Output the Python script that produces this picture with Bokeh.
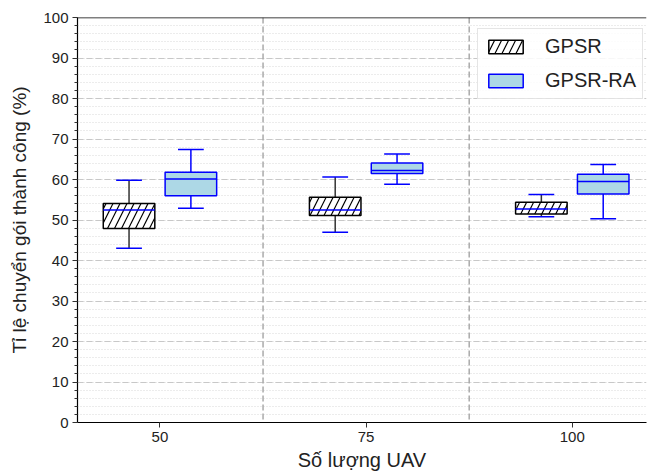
import numpy as np
from bokeh.plotting import figure
from bokeh.models import (ColumnDataSource, Range1d, FixedTicker, SingleIntervalTicker,
                          Span, Legend, LegendItem)
from bokeh.transform import dodge
from bokeh.embed import file_html
from bokeh.resources import INLINE

# ---- data ----
categories = ["50", "75", "100"]
gpsr_low = [43.0, 47.0, 50.8]
gpsr_q1 = [47.9, 51.1, 51.5]
gpsr_med = [52.5, 52.5, 52.7]
gpsr_q3 = [54.1, 55.6, 54.4]
gpsr_high = [59.8, 60.6, 56.3]

ra_low = [52.9, 58.8, 50.3]
ra_q1 = [56.0, 61.5, 56.4]
ra_med = [60.1, 62.2, 59.5]
ra_q3 = [61.8, 64.1, 61.3]
ra_high = [67.4, 66.3, 63.7]

FONT = "Liberation Sans"
xs = list(range(len(categories)))

p = figure(width=647, height=473, output_backend="svg", toolbar_location=None,
           x_range=Range1d(-0.4, 2.36), y_range=Range1d(0, 100),
           min_border_left=77, min_border_right=1, min_border_top=17, min_border_bottom=50)
p.outline_line_color = None
p.background_fill_color = "white"

# grids
p.xgrid.grid_line_color = None
yt = SingleIntervalTicker(interval=10, num_minor_ticks=5)
p.yaxis.ticker = yt
p.ygrid.ticker = yt
p.ygrid.grid_line_color = "#c8c8c8"
p.ygrid.grid_line_dash = "6 3"
p.ygrid.grid_line_width = 1
p.ygrid.minor_grid_line_color = "#d8d8d8"
p.ygrid.minor_grid_line_dash = "1 2"
p.ygrid.minor_grid_line_width = 1

for loc in [0.5, 1.5]:
    p.add_layout(Span(location=loc, dimension="height", line_color="#aaaaaa",
                      line_dash="6 3", line_width=1.5, level="underlay"))
p.add_layout(Span(location=100, dimension="width", line_color="black", line_width=1.5))

def make_src(low, q1, med, q3, high):
    return ColumnDataSource(dict(x=xs, low=low, q1=q1, med=med, q3=q3, high=high))

src_g = make_src(gpsr_low, gpsr_q1, gpsr_med, gpsr_q3, gpsr_high)
src_r = make_src(ra_low, ra_q1, ra_med, ra_q3, ra_high)

off = 0.15
bw = 0.25
cw = 0.125

# GPSR
p.segment(x0=dodge("x", -off), y0="q3", x1=dodge("x", -off), y1="high", source=src_g,
          line_color="#333333", line_width=1.5)
p.segment(x0=dodge("x", -off), y0="low", x1=dodge("x", -off), y1="q1", source=src_g,
          line_color="#333333", line_width=1.5)
p.segment(x0=dodge("x", -off - cw / 2), y0="high", x1=dodge("x", -off + cw / 2), y1="high",
          source=src_g, line_color="blue", line_width=1.5)
p.segment(x0=dodge("x", -off - cw / 2), y0="low", x1=dodge("x", -off + cw / 2), y1="low",
          source=src_g, line_color="blue", line_width=1.5)
box_g = p.vbar(x=dodge("x", -off), width=bw, top="q3", bottom="q1", source=src_g,
               fill_color="white", line_color="black", line_width=1.5,
               hatch_pattern="/", hatch_color="black", hatch_weight=1.2, hatch_scale=14)
p.segment(x0=dodge("x", -off - bw / 2), y0="med", x1=dodge("x", -off + bw / 2), y1="med",
          source=src_g, line_color="blue", line_width=1.5)

# GPSR-RA
p.segment(x0=dodge("x", off), y0="q3", x1=dodge("x", off), y1="high", source=src_r,
          line_color="blue", line_width=1.5)
p.segment(x0=dodge("x", off), y0="low", x1=dodge("x", off), y1="q1", source=src_r,
          line_color="blue", line_width=1.5)
p.segment(x0=dodge("x", off - cw / 2), y0="high", x1=dodge("x", off + cw / 2), y1="high",
          source=src_r, line_color="blue", line_width=1.5)
p.segment(x0=dodge("x", off - cw / 2), y0="low", x1=dodge("x", off + cw / 2), y1="low",
          source=src_r, line_color="blue", line_width=1.5)
box_r = p.vbar(x=dodge("x", off), width=bw, top="q3", bottom="q1", source=src_r,
               fill_color="#add8e6", line_color="blue", line_width=1.5)
p.segment(x0=dodge("x", off - bw / 2), y0="med", x1=dodge("x", off + bw / 2), y1="med",
          source=src_r, line_color="blue", line_width=1.5)

# axes
p.xaxis.ticker = FixedTicker(ticks=xs)
p.xaxis.major_label_overrides = {i: c for i, c in enumerate(categories)}
for ax in (p.xaxis[0], p.yaxis[0]):
    ax.axis_line_color = "black"
    ax.axis_line_width = 1.2
    ax.major_tick_line_color = "#333333"
    ax.minor_tick_line_color = "#333333"
    ax.major_tick_in = 0
    ax.major_tick_out = 5
    ax.minor_tick_in = 0
    ax.minor_tick_out = 3
    ax.major_label_text_font = FONT
    ax.major_label_text_font_size = "15px"
    ax.major_label_text_color = "#222222"
    ax.axis_label_text_font = FONT
    ax.axis_label_text_font_style = "normal"
    ax.axis_label_text_color = "#222222"
    ax.major_label_standoff = 4
    ax.axis_label_standoff = 4
p.yaxis.axis_label_standoff = 10
p.xaxis.axis_label = "Số lượng UAV"
p.xaxis.axis_label_text_font_size = "20px"
p.yaxis.axis_label = "Tỉ lệ chuyển gói thành công (%)"
p.yaxis.axis_label_text_font_size = "19px"

legend = Legend(items=[LegendItem(label="GPSR", renderers=[box_g]),
                       LegendItem(label="GPSR-RA", renderers=[box_r])],
                location=(400, 323))
legend.label_text_font = FONT
legend.label_text_font_size = "20px"
legend.label_text_color = "#222222"
legend.glyph_width = 43
legend.glyph_height = 17
legend.label_height = 22
legend.label_standoff = 18
legend.spacing = 11
legend.padding = 6
legend.border_line_color = "#cccccc"
legend.border_line_width = 1
legend.background_fill_alpha = 0.85
p.add_layout(legend, "center")

open("out.html", "w").write(file_html(p, INLINE))
